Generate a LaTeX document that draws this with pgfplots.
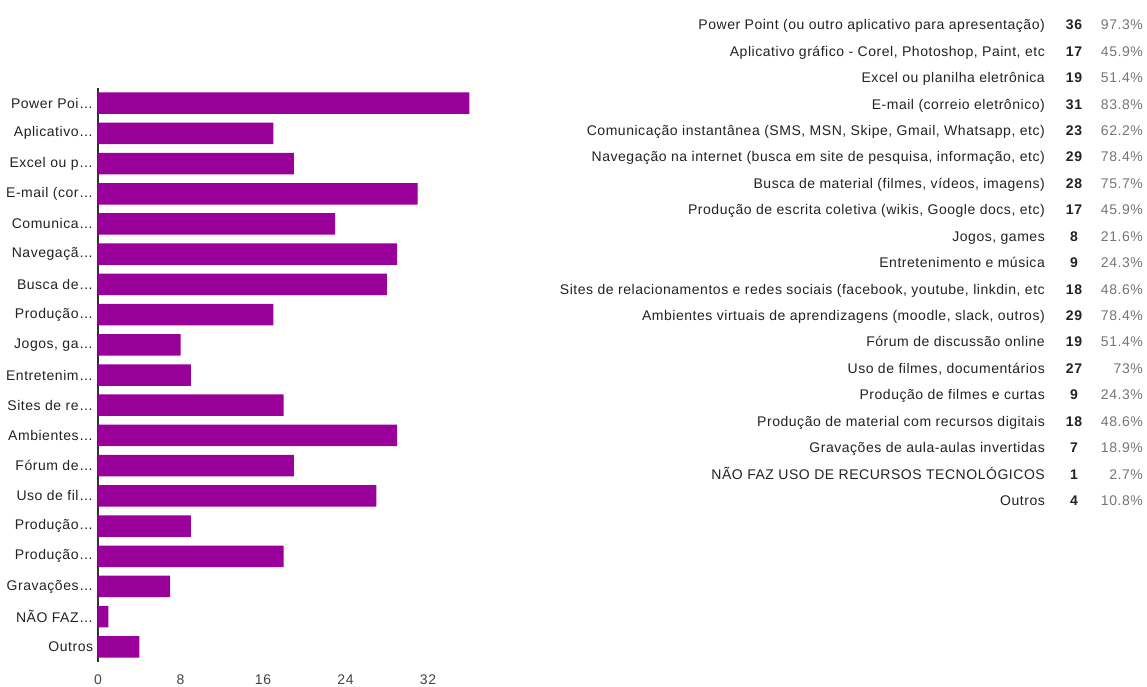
\documentclass[border=0pt]{standalone}
\usepackage{pgfplots}
\pgfplotsset{compat=1.18}
\usepackage{fontspec}
\setmainfont{Liberation Sans}[LetterSpace=3.8]
\definecolor{barc}{HTML}{990099}
\definecolor{txt}{HTML}{222222}
\definecolor{pct}{HTML}{757575}
\definecolor{axl}{HTML}{333333}
\definecolor{tkl}{HTML}{444444}
\newcommand{\row}[4]{%
  \node[anchor=mid east, text=txt, inner sep=0pt] at (1045pt, {-26pt-#1*26.44pt}) {#2};
  \node[anchor=mid, text=txt, inner sep=0pt, font=\bfseries] at (1074pt, {-26pt-#1*26.44pt}) {#3};
  \node[anchor=mid east, text=pct, inner sep=0pt] at (1143pt, {-26pt-#1*26.44pt}) {#4\%};
}
\begin{document}
\fontsize{14}{16}\selectfont
\begin{tikzpicture}
\path[use as bounding box] (0pt,0pt) rectangle (1147pt,-686pt);
\begin{axis}[
  at={(98pt,-662pt)}, anchor=south west,
  scale only axis, width=371.25pt, height=574pt,
  xmin=0, xmax=36, ymin=-0.5, ymax=18.5, y dir=reverse,
  separate axis lines,
  axis x line*=bottom, axis y line*=left,
  x axis line style={draw=none},
  y axis line style={draw=axl, line width=1.4pt, -},
  major tick length=0pt,
  xtick={0,8,16,24,32},
  ytick={0,...,18},
  yticklabels={Power Poi…,Aplicativo…,Excel ou p…,E-mail (cor…,Comunica…,Navegaçã…,Busca de…,Produção…,{Jogos, ga…},Entretenim…,Sites de re…,Ambientes…,Fórum de…,Uso de fil…,Produção…,Produção…,Gravações…,NÃO FAZ…,Outros},
  /pgf/number format/assume math mode=true,
  tick label style={font=\fontsize{14}{16}\selectfont},
  xticklabel style={text=tkl, yshift=-8pt},
  yticklabel style={text=txt, xshift=0pt},
  clip=false,
]
\addplot[xbar, bar width=21.5pt, fill=barc, draw=none] coordinates {
(36,0) (17,1) (19,2) (31,3) (23,4) (29,5) (28,6) (17,7) (8,8) (9,9)
(18,10) (29,11) (19,12) (27,13) (9,14) (18,15) (7,16) (1,17) (4,18)
};
\end{axis}
\row{0}{Power Point (ou outro aplicativo para apresentação)}{36}{97.3}
\row{1}{Aplicativo gráfico - Corel, Photoshop, Paint, etc}{17}{45.9}
\row{2}{Excel ou planilha eletrônica}{19}{51.4}
\row{3}{E-mail (correio eletrônico)}{31}{83.8}
\row{4}{Comunicação instantânea (SMS, MSN, Skipe, Gmail, Whatsapp, etc)}{23}{62.2}
\row{5}{Navegação na internet (busca em site de pesquisa, informação, etc)}{29}{78.4}
\row{6}{Busca de material (filmes, vídeos, imagens)}{28}{75.7}
\row{7}{Produção de escrita coletiva (wikis, Google docs, etc)}{17}{45.9}
\row{8}{Jogos, games}{8}{21.6}
\row{9}{Entretenimento e música}{9}{24.3}
\row{10}{Sites de relacionamentos e redes sociais (facebook, youtube, linkdin, etc}{18}{48.6}
\row{11}{Ambientes virtuais de aprendizagens (moodle, slack, outros)}{29}{78.4}
\row{12}{Fórum de discussão online}{19}{51.4}
\row{13}{Uso de filmes, documentários}{27}{73}
\row{14}{Produção de filmes e curtas}{9}{24.3}
\row{15}{Produção de material com recursos digitais}{18}{48.6}
\row{16}{Gravações de aula-aulas invertidas}{7}{18.9}
\row{17}{NÃO FAZ USO DE RECURSOS TECNOLÓGICOS}{1}{2.7}
\row{18}{Outros}{4}{10.8}
\end{tikzpicture}
\end{document}
